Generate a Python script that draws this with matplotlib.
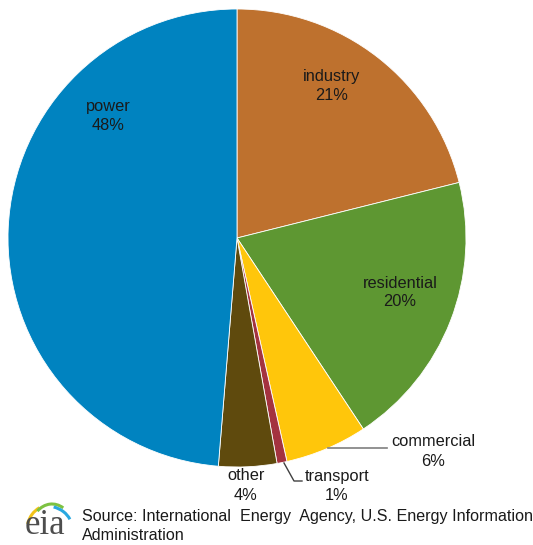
import matplotlib
matplotlib.use("Agg")
import matplotlib.pyplot as plt
from matplotlib.patches import Arc

categories = ["industry", "residential", "commercial", "transport", "other", "power"]
shares = [21.1, 19.6, 5.8, 0.7, 4.1, 48.7]
pct_labels = ["21%", "20%", "6%", "1%", "4%", "48%"]
colors = ["#BE712E", "#5E9732", "#FFC60B", "#A4333F", "#5F4A0D", "#0083C0"]

W, H = 533, 545
fig = plt.figure(figsize=(W / 100, H / 100), dpi=100)
ax = fig.add_axes([0, 0, 1, 1])

def Y(y):
    return H - y

cx, cy, r = 237, 238, 229
ax.pie(shares, colors=colors, startangle=90, counterclock=False,
       center=(cx, Y(cy)), radius=r, frame=True,
       wedgeprops=dict(edgecolor="white", linewidth=0.6))
ax.set_xlim(0, W)
ax.set_ylim(0, H)
ax.set_aspect("equal")
ax.axis("off")

font = "Liberation Sans"
fs = 11.8
label_pos = {
    "industry": (332, 76),
    "residential": (400, 283),
    "commercial": (433, 442),
    "transport": (337, 476),
    "other": (246, 476),
    "power": (108, 107),
}
for cat, pct in zip(categories, pct_labels):
    x, y = label_pos[cat]
    ax.text(x, Y(y), cat, ha="center", va="center", fontsize=fs, family=font, color="#1a1a1a")
    ax.text(x, Y(y + 19), pct, ha="center", va="center", fontsize=fs, family=font, color="#1a1a1a")

# leader lines
ax.plot([328, 387], [Y(448), Y(448)], color="#7f7f7f", lw=1.2)
ax.plot([284, 294, 302], [Y(463), Y(481), Y(481)], color="#404040", lw=1.0)

# source
ax.text(82, Y(516), "Source: International  Energy  Agency, U.S. Energy Information",
        ha="left", va="center", fontsize=11.65, family=font, color="#1a1a1a")
ax.text(82, Y(535), "Administration", ha="left", va="center", fontsize=11.65, family=font, color="#1a1a1a")

# eia logo
ax.text(45, Y(525), "eia", ha="center", va="center", fontsize=25, family="Liberation Serif", color="#4d4d4d")
ax.add_patch(Arc((50, Y(530)), 46, 50, theta1=115, theta2=165, color="#F2C318", lw=2.2))
ax.add_patch(Arc((52, Y(532)), 44, 56, theta1=65, theta2=125, color="#7DC242", lw=2.2))
ax.add_patch(Arc((46, Y(528)), 52, 44, theta1=20, theta2=70, color="#29A8E0", lw=2.2))

fig.savefig("out.png", dpi=100)
